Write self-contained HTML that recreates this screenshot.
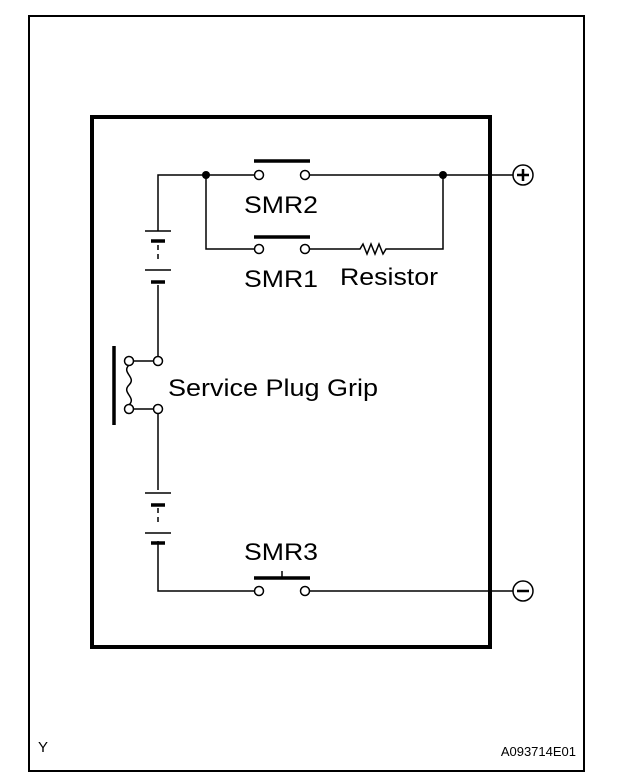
<!DOCTYPE html><html><head><style>body{margin:0;background:#fff}svg{display:block}</style></head><body>
<svg width="624" height="784" xmlns="http://www.w3.org/2000/svg" font-family="Liberation Sans, sans-serif">
<rect x="0" y="0" width="624" height="784" fill="#fff"/>
<rect x="29" y="16" width="555" height="755" fill="none" stroke="#000" stroke-width="2"/>
<rect x="92" y="117" width="398" height="530" fill="none" stroke="#000" stroke-width="4"/>
<g stroke="#000" stroke-width="1.5" fill="none">
<path d="M158,231 V175 H255 M309,175 H513"/>
<path d="M206,175 V249 H255 M309,249 H360 l3,-5 l4,10 l4,-10 l4,10 l4,-10 l4,10 l3,-5 H443 V175"/>
<path d="M158,285 V357 M158,413 V490 M158,541 V591 H255 M309,591 H513"/>
<path d="M133,361 H154 M133,409 H154"/>
<path d="M129,365 c-8,8 8,12 0,20 c-8,8 8,12 0,20"/>
<path d="M158,245 V262 M158,508 V525" stroke-dasharray="5,4"/>
<circle cx="259" cy="175" r="4.5" fill="#fff"/><circle cx="305" cy="175" r="4.5" fill="#fff"/>
<circle cx="259" cy="249" r="4.5" fill="#fff"/><circle cx="305" cy="249" r="4.5" fill="#fff"/>
<circle cx="259" cy="591" r="4.5" fill="#fff"/><circle cx="305" cy="591" r="4.5" fill="#fff"/>
<circle cx="158" cy="361" r="4.5" fill="#fff"/><circle cx="158" cy="409" r="4.5" fill="#fff"/>
<circle cx="129" cy="361" r="4.5" fill="#fff"/><circle cx="129" cy="409" r="4.5" fill="#fff"/>
<circle cx="523" cy="175" r="10" fill="#fff"/><circle cx="523" cy="591" r="10" fill="#fff"/>
<path d="M145,231 H171 M145,270 H171 M145,493 H171 M145,533 H171"/>
<path d="M282,578 V571"/>
</g>
<g stroke="#000" stroke-width="3.5">
<path d="M254,161 H310 M254,237 H310 M254,578 H310"/>
<path d="M151,241 H165 M151,282 H165 M151,505 H165 M151,543 H165"/>
<path d="M114,346 V425"/>
<path d="M517,175 H529 M523,169 V181 M517,591 H529" stroke-width="2.5"/>
</g>
<circle cx="206" cy="175" r="4" fill="#000"/><circle cx="443" cy="175" r="4" fill="#000"/>
<g font-size="24" fill="#000">
<text x="244" y="213" textLength="74" lengthAdjust="spacingAndGlyphs">SMR2</text>
<text x="244" y="287" textLength="74" lengthAdjust="spacingAndGlyphs">SMR1</text>
<text x="340" y="285" textLength="98" lengthAdjust="spacingAndGlyphs">Resistor</text>
<text x="168" y="396" textLength="210" lengthAdjust="spacingAndGlyphs">Service Plug Grip</text>
<text x="244" y="560" textLength="74" lengthAdjust="spacingAndGlyphs">SMR3</text>
</g>
<text x="38" y="752" font-size="15">Y</text>
<text x="576" y="756" font-size="13" text-anchor="end">A093714E01</text>
</svg>
</body></html>
